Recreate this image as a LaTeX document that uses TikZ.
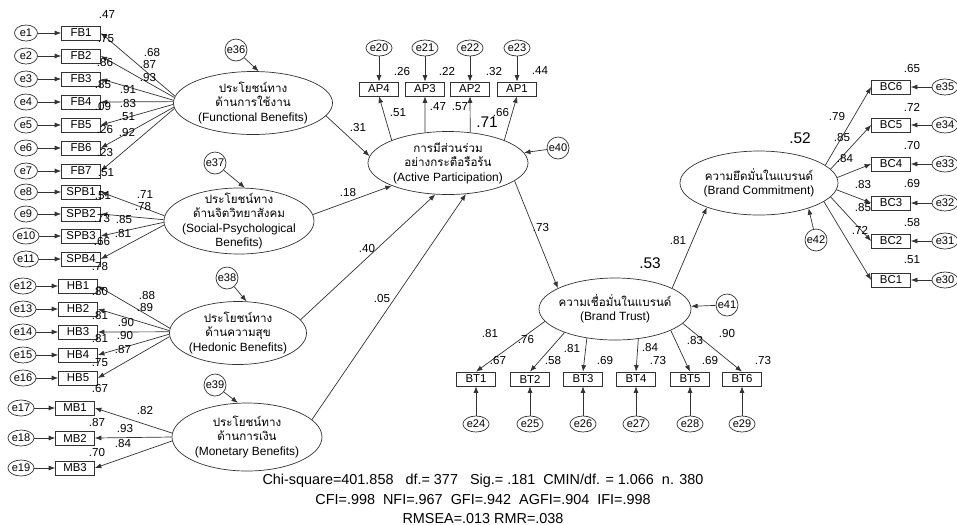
\documentclass[tikz,border=0pt]{standalone}
\usepackage{fontspec}
\setmainfont{Liberation Sans}
\newfontfamily\thaifont[Script=Thai]{Loma}
\usetikzlibrary{arrows.meta, shapes.geometric}
\newcommand{\thl}[1]{{\thaifont\fontsize{6.6}{8.2}\selectfont #1}}
\tikzset{
  ind/.style ={draw=black!80, rectangle, minimum width=7.8mm, minimum height=2.8mm,
               inner sep=0pt, font=\fontsize{6.5}{7}\selectfont},
  err/.style ={draw=black!80, ellipse, minimum width=4.6mm, minimum height=3.2mm,
               inner sep=0pt, font=\fontsize{6.3}{7}\selectfont},
  res/.style ={draw=black!80, circle, minimum size=4.4mm, inner sep=0pt,
               font=\fontsize{6.3}{7}\selectfont},
  lat/.style ={draw=black!80, ellipse, align=center, inner sep=-3mm,
               font=\fontsize{6.8}{8.2}\selectfont},
  flow/.style={draw=black!80, -{Latex[length=1.3mm,width=1mm]}, line width=0.4pt},
  lbl/.style ={font=\fontsize{6.6}{7}\selectfont, inner sep=0pt},
  big/.style ={font=\fontsize{8.8}{9}\selectfont, inner sep=0pt},
}

\begin{document}
\begin{tikzpicture}[x=0.2mm, y=-0.2mm]
  \useasboundingbox (0,0) rectangle (957,524);
  \fill[white] (0,0) rectangle (957,524);

  % latent variables
  \node[lat, minimum width=31.8mm, minimum height=12.6mm] (func) at (253,103)
     {\thl{ประโยชน์ทาง}\\ \thl{ด้านการใช้งาน}\\ (Functional Benefits)};
  \node[lat, minimum width=30mm, minimum height=13.2mm] (soc) at (239,221)
     {\thl{ประโยชน์ทาง}\\ \thl{ด้านจิตวิทยาสังคม}\\ (Social-Psychological\\ Benefits)};
  \node[lat, minimum width=27.4mm, minimum height=12.6mm] (hed) at (238,333)
     {\thl{ประโยชน์ทาง}\\ \thl{ด้านความสุข}\\ (Hedonic Benefits)};
  \node[lat, minimum width=30mm, minimum height=13.6mm] (mon) at (247,437)
     {\thl{ประโยชน์ทาง}\\ \thl{ด้านการเงิน}\\ (Monetary Benefits)};
  \node[lat, minimum width=32mm, minimum height=12.6mm] (ap) at (448,163)
     {\thl{การมีส่วนร่วม}\\ \thl{อย่างกระตือรือร้น}\\ (Active Participation)};
  \node[lat, minimum width=30.4mm, minimum height=12.4mm] (bt) at (615,309)
     {\thl{ความเชื่อมั่นในแบรนด์}\\ (Brand Trust)};
  \node[lat, minimum width=31.6mm, minimum height=12.8mm] (bc) at (759,183)
     {\thl{ความยึดมั่นในแบรนด์}\\ (Brand Commitment)};

  % disturbances
  \node[res] (e36) at (236,50)  {e36};
  \node[res] (e37) at (215,163) {e37};
  \node[res] (e38) at (227,278) {e38};
  \node[res] (e39) at (215,385) {e39};
  \node[res] (e40) at (558,148) {e40};
  \node[res] (e41) at (727,305) {e41};
  \node[res] (e42) at (816,240) {e42};
  \draw[flow] (e36) -- (func.80);
  \draw[flow] (e37) -- (soc.80);
  \draw[flow] (e38) -- (hed.75);
  \draw[flow] (e39) -- (mon.105);
  \draw[flow] (e40) -- (ap);
  \draw[flow] (e41) -- (bt);
  \draw[flow] (e42) -- (bc.-27);

  % indicators, left side
  \foreach \n/\y in {1/33,2/56,3/79,4/102,5/125,6/148,7/171}{
    \node[err] (e\n) at (26,\y) {e\n};
    \node[ind] (FB\n) at (81,\y) {FB\n};
    \draw[flow] (e\n) -- (FB\n);
    \pgfmathtruncatemacro\angl{180+(\y-103)*0.07}
    \draw[flow] (func.\angl) -- (FB\n.east);
  }
  \foreach \n/\m/\y in {1/8/192,2/9/214,3/10/236,4/11/259}{
    \node[err] (e\m) at (26,\y) {e\m};
    \node[ind] (SPB\n) at (81,\y) {SPB\n};
    \draw[flow] (e\m) -- (SPB\n);
    \pgfmathtruncatemacro\angl{180+(\y-223)*0.1}
    \draw[flow] (soc.\angl) -- (SPB\n.east);
  }
  \foreach \n/\m/\y in {1/12/286,2/13/309,3/14/332,4/15/355,5/16/378}{
    \node[err] (e\m) at (23,\y) {e\m};
    \node[ind] (HB\n) at (78,\y) {HB\n};
    \draw[flow] (e\m) -- (HB\n);
    \pgfmathtruncatemacro\angl{180+(\y-333)*0.08}
    \draw[flow] (hed.\angl) -- (HB\n.east);
  }
  \foreach \n/\m/\y in {1/17/408,2/18/438,3/19/468}{
    \node[err] (e\m) at (21,\y) {e\m};
    \node[ind] (MB\n) at (75,\y) {MB\n};
    \draw[flow] (e\m) -- (MB\n);
    \pgfmathtruncatemacro\angl{180+(\y-437)*0.1}
    \draw[flow] (mon.\angl) -- (MB\n.east);
  }

  % indicators, active participation
  \foreach \n/\m/\x/\a in {4/20/379/158, 3/21/425/127, 2/22/470/54, 1/23/517/22}{
    \node[err] (e\m) at (\x,48) {e\m};
    \node[ind] (AP\n) at (\x,89) {AP\n};
    \draw[flow] (e\m) -- (AP\n);
    \draw[flow] (ap.\a) -- (AP\n.south);
  }

  % indicators, brand trust
  \foreach \n/\m/\x/\a in {1/24/476/190, 2/25/530/205, 3/26/583/226,
                           4/27/636/-52, 5/28/690/-21, 6/29/742/-12}{
    \node[ind] (BT\n) at (\x,379) {BT\n};
    \node[err] (e\m) at (\x,424) {e\m};
    \draw[flow] (e\m) -- (BT\n);
    \draw[flow] (bt.\a) -- (BT\n.north);
  }

  % indicators, brand commitment
  \foreach \n/\m/\y/\a in {6/35/87/15, 5/34/125/11, 4/33/164/4,
                           3/32/203/-5, 2/31/241/-11, 1/30/280/-16}{
    \node[ind] (BC\n) at (891,\y) {BC\n};
    \node[err] (e\m) at (945,\y) {e\m};
    \draw[flow] (e\m) -- (BC\n);
    \draw[flow] (bc.\a) -- (BC\n.west);
  }

  % structural paths
  \draw[flow] (func.-10) -- (ap.175);
  \draw[flow] (soc.5)    -- (ap.202);
  \draw[flow] (hed.12)   -- (ap.248);
  \draw[flow] (mon.15)   -- (ap.300);
  \draw[flow] (ap.-15)   -- (bt.160);
  \draw[flow] (bt.20)    -- (bc.205);

  % estimates
  \foreach \v/\x/\y [count=\k] in {
      .47/107/15, .75/106/39, .86/105/62, .85/103/84, .09/103/106, .26/105/129,
      .23/105/152, .51/106/173,
      .68/152/52, .87/148/64, .93/148/77, .91/128/89, .83/128/103, .51/127/117,
      .92/127/132,
      .51/103/196, .73/102/218, .66/102/241, .78/100/266,
      .71/145/194, .78/143/206, .85/124/219, .81/123/233,
      .80/100/291, .81/100/315, .81/100/338, .75/100/363, .67/100/388,
      .88/147/295, .89/145/307, .90/126/322, .90/125/335, .87/123/349,
      .87/97/422, .70/97/452, .82/145/410, .93/125/428, .84/123/443,
      .26/402/71, .22/447/71, .32/494/71, .44/540/71,
      .51/398/113, .47/438/107, .57/460/107, .66/501/112,
      .31/358/127, .18/348/192, .40/367/248, .05/382/298, .73/541/227, .81/678/240,
      .81/490/333, .76/526/339, .67/498/360, .58/553/360, .81/572/348, .69/605/360,
      .84/650/347, .73/658/360, .83/695/340, .69/710/360, .90/727/333, .73/763/360,
      .65/912/68, .72/912/107, .70/912/145, .69/912/183, .58/912/222, .51/912/260,
      .79/837/116, .85/842/137, .84/845/158, .83/863/184, .85/863/207, .72/860/230}
    \node[lbl] (v\k) at (\x,\y) {\v};
  \node[big] (rap) at (487,122) {.71};
  \node[big] (rbt) at (650,263) {.53};
  \node[big] (rbc) at (800,138) {.52};

  % fit indices
  \node[align=center, inner sep=0pt, font=\fontsize{8.2}{11}\selectfont] (fit) at (483,499)
     {Chi-square=401.858\ \ \ df.= 377\ \ \ Sig.= .181\ \ CMIN/df. = 1.066\ \ n. 380\\
      CFI=.998\ \ NFI=.967\ \ GFI=.942\ \ AGFI=.904\ \ IFI=.998\\
      RMSEA=.013 RMR=.038};
\end{tikzpicture}
\end{document}
